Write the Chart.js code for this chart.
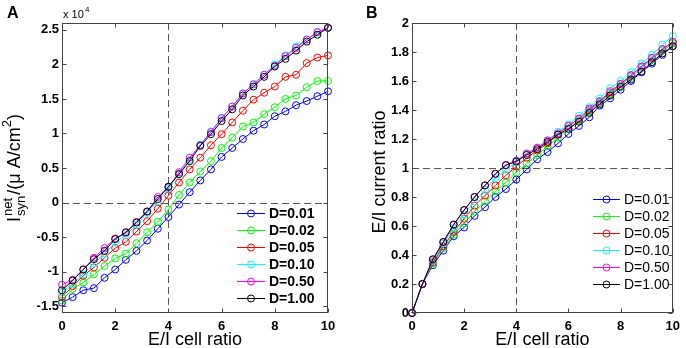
<!DOCTYPE html>
<html lang="en">
<head>
<meta charset="UTF-8">
<title>E/I ratio</title>
<script src="https://cdn.jsdelivr.net/npm/chart.js@4.4.0/dist/chart.umd.min.js"></script>
<style>
  body {margin: 0; background: #fff;}
  #wrap {position: relative; width: 686px; height: 348px;}
  canvas {position: absolute; top: 0;}
</style>
</head>
<body>
<div id="wrap">
  <canvas id="chartA" width="343" height="348" style="left:0"></canvas>
  <canvas id="chartB" width="343" height="348" style="left:343px"></canvas>
</div>
<script>
// E/I cell ratio, shared by both panels
const cellRatio = [0, 0.4, 0.8, 1.2, 1.6, 2.0, 2.4, 2.8, 3.2, 3.6, 4.0, 4.4, 4.8,
                   5.2, 5.6, 6.0, 6.4, 6.8, 7.2, 7.6, 8.0, 8.4, 8.8, 9.2, 9.6, 10];
const seriesNames = ['D=0.01', 'D=0.02', 'D=0.05', 'D=0.10', 'D=0.50', 'D=1.00'];
const seriesColors = ['#0000ff', '#00ff00', '#ff0000', '#00ffff', '#ff00ff', '#000000'];

// panel A: net synaptic current (x 10^4 uA/cm^2)
const netD001 = [-1.45,-1.37,-1.27,-1.24,-1.09,-0.97,-0.83,-0.70,-0.55,-0.38,-0.21,-0.03,0.15,0.32,0.48,0.66,0.79,0.92,1.04,1.13,1.25,1.32,1.41,1.47,1.54,1.61];
const netD002 = [-1.42,-1.25,-1.16,-1.04,-0.92,-0.81,-0.74,-0.59,-0.43,-0.28,-0.10,0.11,0.29,0.45,0.60,0.79,0.94,1.10,1.16,1.28,1.38,1.50,1.55,1.67,1.76,1.76];
const netD005 = [-1.37,-1.21,-1.06,-0.94,-0.80,-0.66,-0.57,-0.42,-0.27,-0.09,0.10,0.29,0.48,0.65,0.83,0.99,1.16,1.33,1.49,1.59,1.68,1.82,1.85,2.02,2.10,2.13];
const netD010 = [-1.30,-1.18,-1.04,-0.88,-0.74,-0.58,-0.47,-0.32,-0.15,0.02,0.20,0.42,0.62,0.84,1.03,1.23,1.39,1.58,1.72,1.85,2.00,2.13,2.26,2.36,2.46,2.53];
const netD050 = [-1.19,-1.12,-0.97,-0.80,-0.66,-0.52,-0.44,-0.28,-0.13,0.08,0.22,0.44,0.65,0.83,1.02,1.22,1.39,1.58,1.71,1.85,1.98,2.12,2.24,2.36,2.47,2.53];
const netD100 = [-1.27,-1.13,-0.97,-0.82,-0.70,-0.53,-0.43,-0.29,-0.13,0.05,0.23,0.41,0.60,0.82,0.99,1.18,1.35,1.55,1.68,1.82,1.97,2.08,2.20,2.33,2.43,2.53];

// panel B: E/I current ratio
const curD001 = [0,0.20,0.33,0.43,0.53,0.59,0.67,0.73,0.80,0.855,0.92,0.99,1.06,1.11,1.17,1.235,1.29,1.35,1.43,1.48,1.54,1.60,1.66,1.72,1.78,1.84];
const curD002 = [0,0.20,0.34,0.45,0.54,0.62,0.70,0.77,0.84,0.90,0.97,1.03,1.09,1.15,1.21,1.27,1.33,1.39,1.45,1.51,1.57,1.63,1.69,1.75,1.81,1.86];
const curD005 = [0,0.20,0.35,0.46,0.56,0.65,0.74,0.81,0.88,0.95,1.01,1.07,1.12,1.17,1.23,1.29,1.34,1.40,1.46,1.52,1.58,1.64,1.70,1.76,1.82,1.87];
const curD010 = [0,0.20,0.36,0.48,0.59,0.68,0.77,0.85,0.93,0.99,1.04,1.10,1.14,1.19,1.25,1.30,1.36,1.42,1.48,1.55,1.60,1.66,1.72,1.78,1.85,1.91];
const curD050 = [0,0.20,0.37,0.49,0.61,0.71,0.80,0.88,0.96,1.02,1.05,1.10,1.14,1.19,1.24,1.29,1.34,1.41,1.46,1.53,1.58,1.64,1.70,1.76,1.82,1.87];
const curD100 = [0,0.20,0.37,0.49,0.61,0.71,0.80,0.88,0.96,1.02,1.045,1.09,1.13,1.18,1.23,1.27,1.32,1.38,1.44,1.50,1.56,1.61,1.665,1.73,1.79,1.84];

// tick labels
const xTicks = [0, 2, 4, 6, 8, 10];
const yTicksA = [-1.5, -1, -0.5, 0, 0.5, 1, 1.5, 2, 2.5];
const yTicksB = [0, 0.2, 0.4, 0.6, 0.8, 1, 1.2, 1.4, 1.6, 1.8, 2];

const FONT = "'Liberation Sans', Arial, sans-serif";
Chart.defaults.font.family = FONT;
Chart.defaults.color = '#000';

function makeDatasets(allY) {
  return allY.map((ys, i) => ({
    label: seriesNames[i],
    data: cellRatio.map((x, j) => ({x: x, y: ys[j]})),
    borderColor: seriesColors[i],
    backgroundColor: 'transparent',
    pointBorderColor: seriesColors[i],
    pointBackgroundColor: 'transparent',
    pointRadius: 3.5,
    pointBorderWidth: 1,
    borderWidth: 1,
    tension: 0,
    clip: false,
    order: 6 - i
  }));
}

// dashed reference lines, box frame with inward ticks, legend, titles
const decor = {
  id: 'decor',
  beforeDatasetsDraw(chart, args, opts) {
    const ctx = chart.ctx, a = chart.chartArea;
    const xs = chart.scales.x, ys = chart.scales.y;
    ctx.save();
    ctx.strokeStyle = '#555';
    ctx.lineWidth = 1;
    ctx.setLineDash([7, 4]);
    const px = Math.round(xs.getPixelForValue(opts.refX)) + 0.5;
    const py = Math.round(ys.getPixelForValue(opts.refY)) + 0.5;
    ctx.beginPath();
    ctx.moveTo(px, a.top); ctx.lineTo(px, a.bottom);
    ctx.moveTo(a.left, py); ctx.lineTo(a.right, py);
    ctx.stroke();
    ctx.restore();
  },
  afterDatasetsDraw(chart, args, opts) {
    const ctx = chart.ctx, a = chart.chartArea;
    const xs = chart.scales.x, ys = chart.scales.y;
    const L = Math.round(a.left) + 0.5, R = Math.round(a.right) - 0.5;
    const T = Math.round(a.top) + 0.5, B = Math.round(a.bottom) - 0.5;
    ctx.save();
    ctx.strokeStyle = '#444';
    ctx.lineWidth = 1;
    ctx.strokeRect(L, T, R - L, B - T);
    ctx.beginPath();
    xTicks.forEach(v => {
      const p = Math.round(xs.getPixelForValue(v)) + 0.5;
      ctx.moveTo(p, B); ctx.lineTo(p, B - 4);
      ctx.moveTo(p, T); ctx.lineTo(p, T + 4);
    });
    opts.yTicks.forEach(v => {
      const p = Math.round(ys.getPixelForValue(v)) + 0.5;
      ctx.moveTo(L, p); ctx.lineTo(L + 4, p);
      ctx.moveTo(R, p); ctx.lineTo(R - 4, p);
    });
    ctx.stroke();

    // legend
    const lg = opts.legend;
    ctx.font = lg.font;
    ctx.textBaseline = 'middle';
    ctx.textAlign = 'left';
    seriesNames.forEach((name, i) => {
      const y = lg.y + i * lg.rowH;
      ctx.strokeStyle = seriesColors[i];
      ctx.beginPath();
      ctx.moveTo(lg.x, y + 0.5); ctx.lineTo(lg.x + lg.len, y + 0.5);
      ctx.stroke();
      ctx.beginPath();
      ctx.arc(lg.x + lg.len / 2, y + 0.5, 3.5, 0, Math.PI * 2);
      ctx.stroke();
      ctx.fillStyle = '#000';
      ctx.fillText(name, lg.x + lg.len + 4, y + 1);
    });

    // x title
    ctx.fillStyle = '#000';
    ctx.font = '18px ' + FONT;
    ctx.textAlign = 'center';
    ctx.textBaseline = 'alphabetic';
    ctx.fillText('E/I cell ratio', (a.left + a.right) / 2, 345);

    // panel letter
    ctx.font = 'bold 16px ' + FONT;
    ctx.textAlign = 'left';
    ctx.fillText(opts.letter, opts.letterX, 18);

    opts.yTitle(ctx, a);
    ctx.restore();
  }
};

function titleA(ctx, a) {
  // exponent label
  ctx.font = '11px ' + FONT;
  ctx.textAlign = 'left';
  ctx.textBaseline = 'alphabetic';
  ctx.fillText('x 10', 63, 18);
  ctx.font = '8px ' + FONT;
  ctx.fillText('4', 85, 12);

  // I_syn^net/(uA/cm^2), rotated
  const big = '18px ' + FONT, small = '13px ' + FONT;
  ctx.save();
  ctx.translate(20, 168);
  ctx.rotate(-Math.PI / 2);
  ctx.font = big; const wI = ctx.measureText('I').width;
  const mid = '/(\u03bc A/cm';
  const wMid = ctx.measureText(mid).width;
  const wP = ctx.measureText(')').width;
  ctx.font = small;
  const wSub = Math.max(ctx.measureText('net').width, ctx.measureText('syn').width);
  const w2 = ctx.measureText('2').width;
  const total = wI + 1 + wSub + 1 + wMid + w2 + wP;
  let x = -total / 2;
  ctx.font = big; ctx.fillText('I', x, 0); x += wI + 1;
  ctx.font = small; ctx.fillText('net', x, -8); ctx.fillText('syn', x, 5); x += wSub + 1;
  ctx.font = big; ctx.fillText(mid, x, 0); x += wMid;
  ctx.font = small; ctx.fillText('2', x, -9); x += w2;
  ctx.font = big; ctx.fillText(')', x, 0);
  ctx.restore();
}

function titleB(ctx, a) {
  ctx.save();
  ctx.translate(42, 172);
  ctx.rotate(-Math.PI / 2);
  ctx.font = '18px ' + FONT;
  ctx.textAlign = 'center';
  ctx.textBaseline = 'alphabetic';
  ctx.fillText('E/I current ratio', 0, 0);
  ctx.restore();
}

function fmt(v) { return String(Math.round(v * 10) / 10); }

function makeChart(id, allY, yMin, yMax, yTicks, yWidth, padRight, decorOpts) {
  return new Chart(document.getElementById(id), {
    type: 'line',
    data: {datasets: makeDatasets(allY)},
    plugins: [decor],
    options: {
      responsive: false,
      animation: false,
      devicePixelRatio: 1,
      layout: {padding: {top: 23, right: padRight, left: 0, bottom: 0}},
      plugins: {legend: {display: false}, tooltip: {enabled: false}, decor: decorOpts},
      scales: {
        x: {
          type: 'linear', min: 0, max: 10,
          grid: {display: false, drawTicks: false},
          border: {display: false},
          afterBuildTicks: s => { s.ticks = xTicks.map(v => ({value: v})); },
          afterFit: s => { s.height = 35; },
          ticks: {font: {size: 13, weight: 'bold'}, padding: 6, maxRotation: 0, callback: v => fmt(v)}
        },
        y: {
          type: 'linear', min: yMin, max: yMax,
          grid: {display: false, drawTicks: false},
          border: {display: false},
          afterBuildTicks: s => { s.ticks = yTicks.map(v => ({value: v})); },
          afterFit: s => { s.width = yWidth; },
          ticks: {font: {size: 13, weight: 'bold'}, padding: 3, callback: v => fmt(v)}
        }
      }
    }
  });
}

makeChart('chartA', [netD001, netD002, netD005, netD010, netD050, netD100],
  -1.6, 2.6, yTicksA, 62, 15, {
    refX: 4, refY: 0, yTicks: yTicksA, letter: 'A', letterX: 7, yTitle: titleA,
    legend: {x: 237, y: 213, len: 28, rowH: 17, font: 'bold 14px ' + FONT}
  });

makeChart('chartB', [curD001, curD002, curD005, curD010, curD050, curD100],
  0, 2, yTicksB, 69, 9, {
    refX: 4, refY: 1, yTicks: yTicksB, letter: 'B', letterX: 23, yTitle: titleB,
    legend: {x: 250, y: 199, len: 27, rowH: 17, font: '14px ' + FONT}
  });
</script>
</body>
</html>
